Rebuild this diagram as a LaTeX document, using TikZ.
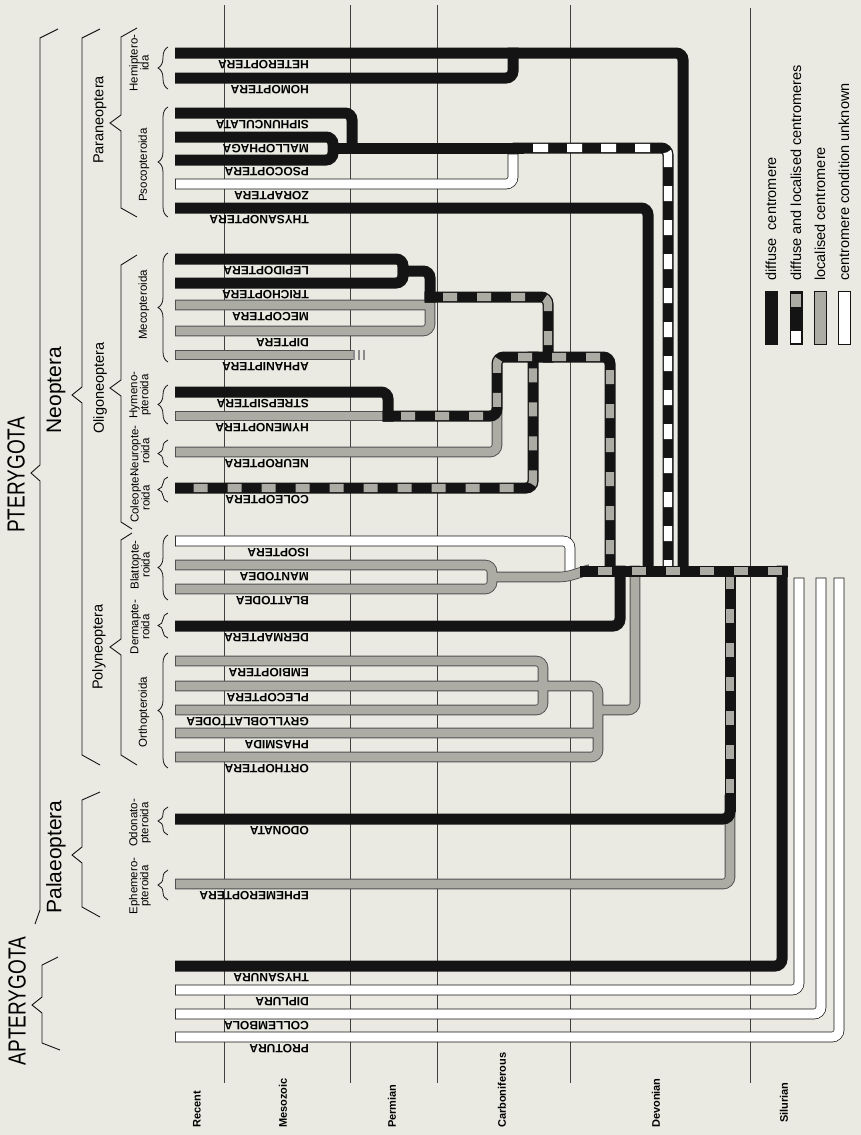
\documentclass[tikz,border=0pt]{standalone}
\usepackage{graphicx}
\usepackage{fontspec}
\setmainfont{Liberation Sans}
\usetikzlibrary{decorations.pathreplacing}

\definecolor{paper}{RGB}{234,234,227}
\definecolor{ink}{RGB}{20,20,20}
\definecolor{hatch}{RGB}{172,172,165}
\definecolor{hatchedge}{RGB}{80,80,80}

\begin{document}
\begin{tikzpicture}[x=1pt, y=-1pt,
    diffuse/.style={draw=ink, line width=11pt, line cap=rect, rounded corners=7pt},
    localised/.style={draw=hatchedge, line width=10.6pt, line cap=rect, rounded corners=7pt,
        postaction={draw=hatch, line width=8.8pt}},
    unknown/.style={draw=ink, line width=10.6pt, line cap=rect, rounded corners=7pt,
        postaction={draw=white, line width=9.2pt}},
    mixed/.style={diffuse, postaction={draw=hatch, line width=8.4pt, line cap=butt,
        dash pattern=on 14pt off 20pt, dash phase=21pt}},
    mixedw/.style={diffuse, postaction={draw=white, line width=8.4pt, line cap=butt,
        dash pattern=on 15pt off 19pt, dash phase=19pt}},
    period/.style={draw=black!75, line width=0.6pt},
    taxon/.style={rotate=180, anchor=west, inner sep=0pt, font=\fontsize{12}{12}\selectfont\bfseries},
    era/.style={rotate=90, anchor=west, inner sep=0pt, font=\fontsize{11}{11}\selectfont\bfseries},
    order/.style={rotate=90, align=center, inner sep=0pt, font=\fontsize{11.5}{11}\selectfont},
    cohort/.style={rotate=90, inner sep=0pt, font=\fontsize{14.5}{14.5}\selectfont},
    division/.style={rotate=90, inner sep=0pt, font=\fontsize{21}{21}\selectfont},
    subclass/.style={rotate=90, inner sep=0pt, font=\fontsize{19}{19}\selectfont},
    bracket/.style={draw=ink, line width=0.9pt},
    curly/.style={draw=ink, line width=0.8pt, decorate, decoration={brace, amplitude=10pt}},
    swatch/.style={draw=ink, line width=0.6pt, minimum width=12pt, minimum height=53pt, inner sep=0pt},
    legtext/.style={rotate=90, anchor=west, inner sep=0pt, font=\fontsize{14.5}{14.5}\selectfont},
]
\fill[paper] (0,0) rectangle (861,1135);
\useasboundingbox (0,0) rectangle (861,1135);

% period boundaries
\foreach \x in {224,350,437,570} \draw[period] (\x,5) -- (\x,1083);
\draw[period] (750,8) -- (750,1083);

\node[era] (p-recent) at (197,1128) {Recent};
\node[era] (p-meso) at (283,1128) {Mesozoic};
\node[era] (p-perm) at (392,1128) {Permian};
\node[era] (p-carb) at (502,1128) {Carboniferous};
\node[era] (p-devon) at (656,1128) {Devonian};
\node[era] (p-silur) at (784,1123) {Silurian};

% taxa: start of bar and name below it
\foreach \n/\y/\lab in {
    hetero/53/HETEROPTERA, homo/78/HOMOPTERA, siphun/113/SIPHUNCULATA,
    malloph/137/MALLOPHAGA, psoco/160/PSOCOPTERA, zora/184/ZORAPTERA,
    thysano/208/THYSANOPTERA, lepido/259/LEPIDOPTERA, tricho/283/TRICHOPTERA,
    meco/305/MECOPTERA, dipt/331/DIPTERA, aphan/355/APHANIPTERA,
    strep/392/STREPSIPTERA, hymen/416/HYMENOPTERA, neuro/452/NEUROPTERA,
    coleo/488/COLEOPTERA, isopt/541/ISOPTERA, manto/565/MANTODEA,
    blatto/589/BLATTODEA, derma/626/DERMAPTERA, embio/661/EMBIOPTERA,
    pleco/686/PLECOPTERA, gryllo/710/GRYLLOBLATTODEA, phasm/733/PHASMIDA,
    ortho/757/ORTHOPTERA, odon/819/ODONATA, ephem/884/EPHEMEROPTERA,
    thysanura/966/THYSANURA, diplura/990/DIPLURA, collem/1014/COLLEMBOLA,
    protura/1037/PROTURA} {
    \coordinate (t-\n) at (180.5,\y);
    \node[taxon] (l-\n) at (309,\y+12) {\lab};
}

% junctions
\coordinate (jHem) at (513,53);
\coordinate (dHem) at (683,571);
\coordinate (jPso) at (333,148);
\coordinate (jSip) at (352,148);
\coordinate (sPso) at (518,148);
\coordinate (eZor) at (513,159);
\coordinate (dPso) at (668,571);
\coordinate (dThy) at (648,571);
\coordinate (jLep) at (403,271);
\coordinate (jMec) at (430,297);
\coordinate (dMec) at (548,357);
\coordinate (eAph) at (350,355);
\coordinate (jStr) at (388,416);
\coordinate (jHym) at (497,416);
\coordinate (jOli) at (497,357);
\coordinate (dOli) at (610,571);
\coordinate (dCol) at (533,357);
\coordinate (jIso) at (570,568);
\coordinate (jMan) at (492,577);
\coordinate (kBla) at (566,577);
\coordinate (sTru) at (585,571);
\coordinate (dDer) at (620,571);
\coordinate (jEmb) at (543,686);
\coordinate (jPhA) at (598,710);
\coordinate (dOrt) at (635,571);
\coordinate (jOdo) at (730,819);
\coordinate (kOdo) at (730,800);
\coordinate (kPal) at (730,806);
\coordinate (dPal) at (730,571);
\coordinate (dThu) at (782,571);
\coordinate (eDip) at (799,583);
\coordinate (eCol) at (821,583);
\coordinate (ePro) at (839,583);

% localised and unknown lineages
\draw[unknown] (t-zora) -| (eZor);
\draw[localised] (t-dipt) -| (jMec) (t-meco) -- (t-meco -| jMec);
\draw[localised] (t-aphan) -- (eAph);
\foreach \dx in {4,9,14}
    \draw[draw=black!45, line width=2pt] ([xshift=\dx pt]eAph) ++(0,-5) -- ++(0,10);
\draw[localised] (t-hymen) -- (jStr);
\draw[localised] (t-neuro) -| (jHym);
\draw[unknown] (t-isopt) -| (jIso);
\draw[localised] (t-manto) -| (t-blatto -| jMan) -- (t-blatto) (jMan) -- (kBla) -- (sTru);
\draw[localised] (t-embio) -| (t-gryllo -| jEmb) -- (t-gryllo)
    (t-pleco) -| (t-ortho -| jPhA) -- (t-ortho)
    (t-phasm) -- (t-phasm -| jPhA)
    (jPhA) -| (dOrt);
\draw[localised] (t-ephem) -| (jOdo);
\draw[unknown] (t-diplura) -| (eDip);
\draw[unknown] (t-collem) -| (eCol);
\draw[unknown] (t-protura) -| (ePro);

% diffuse lineages
\draw[diffuse] (t-homo) -| (jHem);
\draw[diffuse] (t-hetero) -| (dHem);
\draw[diffuse] (t-psoco) -| (t-malloph -| jPso) -- (t-malloph);
\draw[diffuse] (t-siphun) -| (jSip);
\draw[diffuse] (jPso) -- (sPso);
\draw[diffuse] (t-thysano) -| (dThy);
\draw[diffuse] (t-lepido) -| (t-tricho -| jLep) -- (t-tricho);
\draw[diffuse] (jLep) -| (jMec);
\draw[diffuse] (t-strep) -| (jStr);
\draw[diffuse] (t-derma) -| (dDer);
\draw[diffuse] (t-odon) -| (kOdo);
\draw[diffuse] (t-thysanura) -| (dThu);

% mixed lineages
\draw[mixedw] (sPso) -| (dPso);
\draw[mixed] (t-coleo) -| (dCol);
\draw[mixed] (jMec) -| (dMec);
\draw[mixed] (jStr) -| (jOli) -| (dOli);
\draw[mixed] (kPal) -- (dPal);
\draw[mixed, postaction={dash phase=19pt}] (sTru) -- (dThu);

% orders
\foreach \a/\b in {89/47, 217/107, 362/253, 424/385, 467/440, 502/477,
                   600/535, 638/613, 768/653, 835/807, 900/870}
    \draw[curly] (168,\a) -- (168,\b);

\node[order] (o-hemip) at (139,63) {Hemiptero-\\ida};
\node[order] (o-psoco) at (144,165) {Psocopteroida};
\node[order] (o-meco) at (144,305) {Mecopteroida};
\node[order] (o-hymen) at (140,395) {Hymeno-\\pteroida};
\node[order] (o-neuro) at (140,451) {Neuropte-\\roida};
\node[order] (o-coleo) at (140,498) {Coleopte-\\roida};
\node[order] (o-blatt) at (140,565) {Blattopte-\\roida};
\node[order] (o-derma) at (140,627) {Dermapte-\\roida};
\node[order] (o-ortho) at (144,712) {Orthopteroida};
\node[order] (o-odon) at (140,823) {Odonato-\\pteroida};
\node[order] (o-ephem) at (140,886) {Ephemero-\\pteroida};

% cohorts
\draw[bracket] (137,28) -- (121,37) -- (121,115) -- (110,123) -- (121,131) -- (121,208) -- (137,217);
\draw[bracket] (137,255) -- (121,265) -- (121,380) -- (110,388) -- (121,396) -- (121,522) -- (132,529);
\draw[bracket] (132,533) -- (121,540) -- (121,639) -- (110,647) -- (121,655) -- (121,755) -- (137,765);
\node[cohort] (c-para) at (100,120) {Paraneoptera};
\node[cohort] (c-oligo) at (100,388) {Oligoneoptera};
\node[cohort] (c-poly) at (99,647) {Polyneoptera};

% divisions
\draw[bracket] (100,29) -- (82,38) -- (82,387) -- (72,395) -- (82,403) -- (82,755) -- (100,765);
\draw[bracket] (100,792) -- (82,800) -- (82,847) -- (72,855) -- (82,863) -- (82,907) -- (100,917);
\node[division] (d-neo) at (56,390) {Neoptera};
\node[division] (d-palaeo) at (56,857) {Palaeoptera};

% subclasses
\draw[bracket] (58,29) -- (40,38) -- (40,465) -- (31,473) -- (40,481) -- (40,910) -- (35,924);
\draw[bracket] (58,957) -- (42,965) -- (42,997) -- (32,1005) -- (42,1013) -- (42,1043) -- (60,1050);
\node[subclass] (s-ptery) at (16,475) {\scalebox{1}[1.3]{PTERYGOTA}};
\node[subclass] (s-aptery) at (17,1001) {\scalebox{1}[1.3]{APTERYGOTA}};

% legend
\node[swatch, fill=ink] (sw-diff) at (771,318) {};
\node[swatch, fill=ink] (sw-mix) at (796,318) {};
\fill[hatch] (791,294) rectangle (801,307);
\fill[white] (791,331) rectangle (801,343);
\node[swatch, fill=hatch] (sw-loc) at (820,318) {};
\node[swatch, fill=white] (sw-unk) at (844,318) {};
\node[legtext] (lt-diff) at (771,281) {diffuse~~centromere};
\node[legtext] (lt-mix) at (796,281) {diffuse and localised centromeres};
\node[legtext] (lt-loc) at (820,281) {localised centromere};
\node[legtext] (lt-unk) at (844,281) {centromere condition unknown};
\end{tikzpicture}
\end{document}
